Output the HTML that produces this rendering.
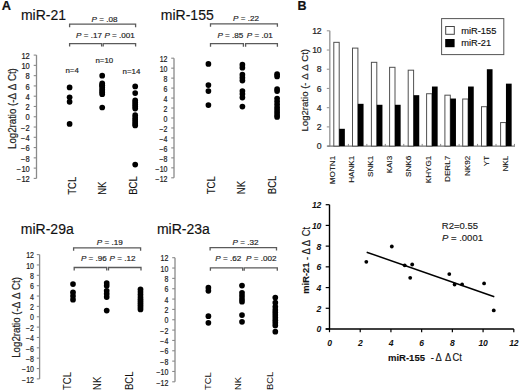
<!DOCTYPE html>
<html><head><meta charset="utf-8"><style>
html,body{margin:0;padding:0;background:#fff;}
svg{display:block;font-family:"Liberation Sans", sans-serif;}
</style></head><body>
<svg width="520" height="392" viewBox="0 0 520 392">
<rect width="520" height="392" fill="#fff"/>
<line x1="36.50" y1="55.10" x2="36.50" y2="178.40" stroke="#8a8a8a" stroke-width="1.3"/>
<line x1="33.70" y1="178.40" x2="36.50" y2="178.40" stroke="#8a8a8a" stroke-width="1.1"/>
<text x="0" y="0" font-size="8.8" text-anchor="end" fill="#1a1a1a" stroke="#1a1a1a" stroke-width="0.2" transform="translate(29.80 182.10) scale(0.86 1)">− 12</text>
<line x1="33.70" y1="168.12" x2="36.50" y2="168.12" stroke="#8a8a8a" stroke-width="1.1"/>
<text x="0" y="0" font-size="8.8" text-anchor="end" fill="#1a1a1a" stroke="#1a1a1a" stroke-width="0.2" transform="translate(29.80 171.82) scale(0.86 1)">− 10</text>
<line x1="33.70" y1="157.85" x2="36.50" y2="157.85" stroke="#8a8a8a" stroke-width="1.1"/>
<text x="0" y="0" font-size="8.8" text-anchor="end" fill="#1a1a1a" stroke="#1a1a1a" stroke-width="0.2" transform="translate(29.80 161.55) scale(0.86 1)">− 8</text>
<line x1="33.70" y1="147.57" x2="36.50" y2="147.57" stroke="#8a8a8a" stroke-width="1.1"/>
<text x="0" y="0" font-size="8.8" text-anchor="end" fill="#1a1a1a" stroke="#1a1a1a" stroke-width="0.2" transform="translate(29.80 151.27) scale(0.86 1)">− 6</text>
<line x1="33.70" y1="137.30" x2="36.50" y2="137.30" stroke="#8a8a8a" stroke-width="1.1"/>
<text x="0" y="0" font-size="8.8" text-anchor="end" fill="#1a1a1a" stroke="#1a1a1a" stroke-width="0.2" transform="translate(29.80 141.00) scale(0.86 1)">− 4</text>
<line x1="33.70" y1="127.03" x2="36.50" y2="127.03" stroke="#8a8a8a" stroke-width="1.1"/>
<text x="0" y="0" font-size="8.8" text-anchor="end" fill="#1a1a1a" stroke="#1a1a1a" stroke-width="0.2" transform="translate(29.80 130.72) scale(0.86 1)">− 2</text>
<line x1="33.70" y1="116.75" x2="36.50" y2="116.75" stroke="#8a8a8a" stroke-width="1.1"/>
<text x="0" y="0" font-size="8.8" text-anchor="end" fill="#1a1a1a" stroke="#1a1a1a" stroke-width="0.2" transform="translate(29.80 120.45) scale(0.86 1)">0</text>
<line x1="33.70" y1="106.47" x2="36.50" y2="106.47" stroke="#8a8a8a" stroke-width="1.1"/>
<text x="0" y="0" font-size="8.8" text-anchor="end" fill="#1a1a1a" stroke="#1a1a1a" stroke-width="0.2" transform="translate(29.80 110.17) scale(0.86 1)">2</text>
<line x1="33.70" y1="96.20" x2="36.50" y2="96.20" stroke="#8a8a8a" stroke-width="1.1"/>
<text x="0" y="0" font-size="8.8" text-anchor="end" fill="#1a1a1a" stroke="#1a1a1a" stroke-width="0.2" transform="translate(29.80 99.90) scale(0.86 1)">4</text>
<line x1="33.70" y1="85.92" x2="36.50" y2="85.92" stroke="#8a8a8a" stroke-width="1.1"/>
<text x="0" y="0" font-size="8.8" text-anchor="end" fill="#1a1a1a" stroke="#1a1a1a" stroke-width="0.2" transform="translate(29.80 89.62) scale(0.86 1)">6</text>
<line x1="33.70" y1="75.65" x2="36.50" y2="75.65" stroke="#8a8a8a" stroke-width="1.1"/>
<text x="0" y="0" font-size="8.8" text-anchor="end" fill="#1a1a1a" stroke="#1a1a1a" stroke-width="0.2" transform="translate(29.80 79.35) scale(0.86 1)">8</text>
<line x1="33.70" y1="65.38" x2="36.50" y2="65.38" stroke="#8a8a8a" stroke-width="1.1"/>
<text x="0" y="0" font-size="8.8" text-anchor="end" fill="#1a1a1a" stroke="#1a1a1a" stroke-width="0.2" transform="translate(29.80 69.08) scale(0.86 1)">10</text>
<line x1="33.70" y1="55.10" x2="36.50" y2="55.10" stroke="#8a8a8a" stroke-width="1.1"/>
<text x="0" y="0" font-size="8.8" text-anchor="end" fill="#1a1a1a" stroke="#1a1a1a" stroke-width="0.2" transform="translate(29.80 58.80) scale(0.86 1)">12</text>
<text x="20.90" y="19.50" font-size="14" text-anchor="start" fill="#111" stroke="#111" stroke-width="0.15" >miR-21</text>
<text x="15.80" y="108.60" font-size="10.0" text-anchor="middle" fill="#222" stroke="#222" stroke-width="0.2" textLength="80.8" lengthAdjust="spacingAndGlyphs" transform="rotate(-90 15.80 108.60)">Log2ratio (-Δ Δ Ct)</text>
<path d="M69.60 27.20 L69.60 24.20 L135.60 24.20 L135.60 27.20" stroke="#5a5a5a" stroke-width="1.3" fill="none"/>
<path d="M69.60 46.60 L69.60 43.60 L101.60 43.60 L101.60 46.60" stroke="#5a5a5a" stroke-width="1.3" fill="none"/>
<path d="M103.20 46.60 L103.20 43.60 L135.60 43.60 L135.60 46.60" stroke="#5a5a5a" stroke-width="1.3" fill="none"/>
<text x="91.60" y="21.60" font-size="8.1" text-anchor="start" fill="#222" stroke="#222" stroke-width="0.18" ><tspan font-style="italic">P</tspan> = .08</text>
<text x="76.10" y="37.80" font-size="8.1" text-anchor="start" fill="#222" stroke="#222" stroke-width="0.18" ><tspan font-style="italic">P</tspan> = .17</text>
<text x="104.40" y="37.80" font-size="8.1" text-anchor="start" fill="#222" stroke="#222" stroke-width="0.18" ><tspan font-style="italic">P</tspan> = .001</text>
<text x="65.40" y="73.40" font-size="7.9" text-anchor="start" fill="#222" stroke="#222" stroke-width="0.18" >n=4</text>
<text x="95.40" y="63.20" font-size="7.9" text-anchor="start" fill="#222" stroke="#222" stroke-width="0.18" >n=10</text>
<text x="122.50" y="73.80" font-size="7.9" text-anchor="start" fill="#222" stroke="#222" stroke-width="0.18" >n=14</text>
<circle cx="69.60" cy="87.47" r="2.85" fill="#000"/>
<circle cx="69.60" cy="97.23" r="2.85" fill="#000"/>
<circle cx="69.60" cy="101.85" r="2.85" fill="#000"/>
<circle cx="69.60" cy="123.94" r="2.85" fill="#000"/>
<circle cx="102.20" cy="75.65" r="2.85" fill="#000"/>
<circle cx="102.20" cy="83.36" r="2.85" fill="#000"/>
<circle cx="102.20" cy="85.41" r="2.85" fill="#000"/>
<circle cx="102.20" cy="85.41" r="2.85" fill="#000"/>
<circle cx="102.20" cy="87.47" r="2.85" fill="#000"/>
<circle cx="102.20" cy="89.52" r="2.85" fill="#000"/>
<circle cx="102.20" cy="91.06" r="2.85" fill="#000"/>
<circle cx="102.20" cy="92.60" r="2.85" fill="#000"/>
<circle cx="102.20" cy="94.14" r="2.85" fill="#000"/>
<circle cx="102.20" cy="107.50" r="2.85" fill="#000"/>
<circle cx="135.20" cy="86.44" r="2.85" fill="#000"/>
<circle cx="135.20" cy="93.12" r="2.85" fill="#000"/>
<circle cx="135.20" cy="100.31" r="2.85" fill="#000"/>
<circle cx="135.20" cy="102.36" r="2.85" fill="#000"/>
<circle cx="135.20" cy="104.42" r="2.85" fill="#000"/>
<circle cx="135.20" cy="106.47" r="2.85" fill="#000"/>
<circle cx="135.20" cy="108.53" r="2.85" fill="#000"/>
<circle cx="135.20" cy="115.21" r="2.85" fill="#000"/>
<circle cx="135.20" cy="117.78" r="2.85" fill="#000"/>
<circle cx="135.20" cy="119.83" r="2.85" fill="#000"/>
<circle cx="135.20" cy="121.89" r="2.85" fill="#000"/>
<circle cx="135.20" cy="123.94" r="2.85" fill="#000"/>
<circle cx="135.20" cy="125.48" r="2.85" fill="#000"/>
<circle cx="135.20" cy="164.53" r="2.85" fill="#000"/>
<text x="0" y="0" font-size="10.6" fill="#111" stroke="#111" stroke-width="0.12" transform="translate(76.30 194.80) rotate(-90) scale(0.9 1)">TCL</text>
<text x="0" y="0" font-size="10.6" fill="#111" stroke="#111" stroke-width="0.12" transform="translate(106.30 194.80) rotate(-90) scale(0.9 1)">NK</text>
<text x="0" y="0" font-size="10.6" fill="#111" stroke="#111" stroke-width="0.12" transform="translate(137.10 194.80) rotate(-90) scale(0.9 1)">BCL</text>
<line x1="174.00" y1="58.20" x2="174.00" y2="177.80" stroke="#8a8a8a" stroke-width="1.3"/>
<line x1="171.20" y1="177.80" x2="174.00" y2="177.80" stroke="#8a8a8a" stroke-width="1.1"/>
<text x="0" y="0" font-size="8.8" text-anchor="end" fill="#1a1a1a" stroke="#1a1a1a" stroke-width="0.2" transform="translate(167.50 181.50) scale(0.8 1)">− 12</text>
<line x1="171.20" y1="167.83" x2="174.00" y2="167.83" stroke="#8a8a8a" stroke-width="1.1"/>
<text x="0" y="0" font-size="8.8" text-anchor="end" fill="#1a1a1a" stroke="#1a1a1a" stroke-width="0.2" transform="translate(167.50 171.53) scale(0.8 1)">− 10</text>
<line x1="171.20" y1="157.87" x2="174.00" y2="157.87" stroke="#8a8a8a" stroke-width="1.1"/>
<text x="0" y="0" font-size="8.8" text-anchor="end" fill="#1a1a1a" stroke="#1a1a1a" stroke-width="0.2" transform="translate(167.50 161.57) scale(0.8 1)">− 8</text>
<line x1="171.20" y1="147.90" x2="174.00" y2="147.90" stroke="#8a8a8a" stroke-width="1.1"/>
<text x="0" y="0" font-size="8.8" text-anchor="end" fill="#1a1a1a" stroke="#1a1a1a" stroke-width="0.2" transform="translate(167.50 151.60) scale(0.8 1)">− 6</text>
<line x1="171.20" y1="137.93" x2="174.00" y2="137.93" stroke="#8a8a8a" stroke-width="1.1"/>
<text x="0" y="0" font-size="8.8" text-anchor="end" fill="#1a1a1a" stroke="#1a1a1a" stroke-width="0.2" transform="translate(167.50 141.63) scale(0.8 1)">− 4</text>
<line x1="171.20" y1="127.97" x2="174.00" y2="127.97" stroke="#8a8a8a" stroke-width="1.1"/>
<text x="0" y="0" font-size="8.8" text-anchor="end" fill="#1a1a1a" stroke="#1a1a1a" stroke-width="0.2" transform="translate(167.50 131.67) scale(0.8 1)">− 2</text>
<line x1="171.20" y1="118.00" x2="174.00" y2="118.00" stroke="#8a8a8a" stroke-width="1.1"/>
<text x="0" y="0" font-size="8.8" text-anchor="end" fill="#1a1a1a" stroke="#1a1a1a" stroke-width="0.2" transform="translate(167.50 121.70) scale(0.8 1)">0</text>
<line x1="171.20" y1="108.03" x2="174.00" y2="108.03" stroke="#8a8a8a" stroke-width="1.1"/>
<text x="0" y="0" font-size="8.8" text-anchor="end" fill="#1a1a1a" stroke="#1a1a1a" stroke-width="0.2" transform="translate(167.50 111.73) scale(0.8 1)">2</text>
<line x1="171.20" y1="98.07" x2="174.00" y2="98.07" stroke="#8a8a8a" stroke-width="1.1"/>
<text x="0" y="0" font-size="8.8" text-anchor="end" fill="#1a1a1a" stroke="#1a1a1a" stroke-width="0.2" transform="translate(167.50 101.77) scale(0.8 1)">4</text>
<line x1="171.20" y1="88.10" x2="174.00" y2="88.10" stroke="#8a8a8a" stroke-width="1.1"/>
<text x="0" y="0" font-size="8.8" text-anchor="end" fill="#1a1a1a" stroke="#1a1a1a" stroke-width="0.2" transform="translate(167.50 91.80) scale(0.8 1)">6</text>
<line x1="171.20" y1="78.13" x2="174.00" y2="78.13" stroke="#8a8a8a" stroke-width="1.1"/>
<text x="0" y="0" font-size="8.8" text-anchor="end" fill="#1a1a1a" stroke="#1a1a1a" stroke-width="0.2" transform="translate(167.50 81.83) scale(0.8 1)">8</text>
<line x1="171.20" y1="68.17" x2="174.00" y2="68.17" stroke="#8a8a8a" stroke-width="1.1"/>
<text x="0" y="0" font-size="8.8" text-anchor="end" fill="#1a1a1a" stroke="#1a1a1a" stroke-width="0.2" transform="translate(167.50 71.87) scale(0.8 1)">10</text>
<line x1="171.20" y1="58.20" x2="174.00" y2="58.20" stroke="#8a8a8a" stroke-width="1.1"/>
<text x="0" y="0" font-size="8.8" text-anchor="end" fill="#1a1a1a" stroke="#1a1a1a" stroke-width="0.2" transform="translate(167.50 61.90) scale(0.8 1)">12</text>
<text x="160.80" y="19.80" font-size="14" text-anchor="start" fill="#111" stroke="#111" stroke-width="0.15" >miR-155</text>
<path d="M210.50 26.80 L210.50 23.80 L277.40 23.80 L277.40 26.80" stroke="#5a5a5a" stroke-width="1.3" fill="none"/>
<path d="M210.50 46.70 L210.50 43.70 L243.40 43.70 L243.40 46.70" stroke="#5a5a5a" stroke-width="1.3" fill="none"/>
<path d="M245.60 46.70 L245.60 43.70 L277.40 43.70 L277.40 46.70" stroke="#5a5a5a" stroke-width="1.3" fill="none"/>
<text x="233.00" y="21.30" font-size="8.1" text-anchor="start" fill="#222" stroke="#222" stroke-width="0.18" ><tspan font-style="italic">P</tspan> = .22</text>
<text x="217.40" y="37.80" font-size="8.1" text-anchor="start" fill="#222" stroke="#222" stroke-width="0.18" ><tspan font-style="italic">P</tspan> = .85</text>
<text x="246.80" y="37.80" font-size="8.1" text-anchor="start" fill="#222" stroke="#222" stroke-width="0.18" ><tspan font-style="italic">P</tspan> = .01</text>
<circle cx="208.40" cy="63.93" r="2.85" fill="#000"/>
<circle cx="208.40" cy="85.11" r="2.85" fill="#000"/>
<circle cx="208.40" cy="91.09" r="2.85" fill="#000"/>
<circle cx="208.40" cy="105.04" r="2.85" fill="#000"/>
<circle cx="242.40" cy="64.68" r="2.85" fill="#000"/>
<circle cx="242.40" cy="67.67" r="2.85" fill="#000"/>
<circle cx="242.40" cy="74.65" r="2.85" fill="#000"/>
<circle cx="242.40" cy="77.63" r="2.85" fill="#000"/>
<circle cx="242.40" cy="80.62" r="2.85" fill="#000"/>
<circle cx="242.40" cy="91.09" r="2.85" fill="#000"/>
<circle cx="242.40" cy="94.08" r="2.85" fill="#000"/>
<circle cx="242.40" cy="97.57" r="2.85" fill="#000"/>
<circle cx="242.40" cy="106.54" r="2.85" fill="#000"/>
<circle cx="277.10" cy="74.15" r="2.85" fill="#000"/>
<circle cx="277.10" cy="76.39" r="2.85" fill="#000"/>
<circle cx="277.10" cy="89.10" r="2.85" fill="#000"/>
<circle cx="277.10" cy="91.09" r="2.85" fill="#000"/>
<circle cx="277.10" cy="98.56" r="2.85" fill="#000"/>
<circle cx="277.10" cy="101.56" r="2.85" fill="#000"/>
<circle cx="277.10" cy="104.55" r="2.85" fill="#000"/>
<circle cx="277.10" cy="107.53" r="2.85" fill="#000"/>
<circle cx="277.10" cy="110.03" r="2.85" fill="#000"/>
<circle cx="277.10" cy="112.52" r="2.85" fill="#000"/>
<circle cx="277.10" cy="115.01" r="2.85" fill="#000"/>
<circle cx="277.10" cy="117.00" r="2.85" fill="#000"/>
<text x="0" y="0" font-size="10.6" fill="#111" stroke="#111" stroke-width="0.12" transform="translate(215.10 194.20) rotate(-90) scale(0.9 1)">TCL</text>
<text x="0" y="0" font-size="10.6" fill="#111" stroke="#111" stroke-width="0.12" transform="translate(244.70 194.20) rotate(-90) scale(0.9 1)">NK</text>
<text x="0" y="0" font-size="10.6" fill="#111" stroke="#111" stroke-width="0.12" transform="translate(275.90 194.20) rotate(-90) scale(0.9 1)">BCL</text>
<line x1="39.60" y1="254.60" x2="39.60" y2="378.90" stroke="#8a8a8a" stroke-width="1.3"/>
<line x1="36.80" y1="378.90" x2="39.60" y2="378.90" stroke="#8a8a8a" stroke-width="1.1"/>
<text x="0" y="0" font-size="8.8" text-anchor="end" fill="#1a1a1a" stroke="#1a1a1a" stroke-width="0.2" transform="translate(34.00 382.60) scale(0.8 1)">− 12</text>
<line x1="36.80" y1="368.54" x2="39.60" y2="368.54" stroke="#8a8a8a" stroke-width="1.1"/>
<text x="0" y="0" font-size="8.8" text-anchor="end" fill="#1a1a1a" stroke="#1a1a1a" stroke-width="0.2" transform="translate(34.00 372.24) scale(0.8 1)">− 10</text>
<line x1="36.80" y1="358.18" x2="39.60" y2="358.18" stroke="#8a8a8a" stroke-width="1.1"/>
<text x="0" y="0" font-size="8.8" text-anchor="end" fill="#1a1a1a" stroke="#1a1a1a" stroke-width="0.2" transform="translate(34.00 361.88) scale(0.8 1)">− 8</text>
<line x1="36.80" y1="347.82" x2="39.60" y2="347.82" stroke="#8a8a8a" stroke-width="1.1"/>
<text x="0" y="0" font-size="8.8" text-anchor="end" fill="#1a1a1a" stroke="#1a1a1a" stroke-width="0.2" transform="translate(34.00 351.52) scale(0.8 1)">− 6</text>
<line x1="36.80" y1="337.47" x2="39.60" y2="337.47" stroke="#8a8a8a" stroke-width="1.1"/>
<text x="0" y="0" font-size="8.8" text-anchor="end" fill="#1a1a1a" stroke="#1a1a1a" stroke-width="0.2" transform="translate(34.00 341.17) scale(0.8 1)">− 4</text>
<line x1="36.80" y1="327.11" x2="39.60" y2="327.11" stroke="#8a8a8a" stroke-width="1.1"/>
<text x="0" y="0" font-size="8.8" text-anchor="end" fill="#1a1a1a" stroke="#1a1a1a" stroke-width="0.2" transform="translate(34.00 330.81) scale(0.8 1)">− 2</text>
<line x1="36.80" y1="316.75" x2="39.60" y2="316.75" stroke="#8a8a8a" stroke-width="1.1"/>
<text x="0" y="0" font-size="8.8" text-anchor="end" fill="#1a1a1a" stroke="#1a1a1a" stroke-width="0.2" transform="translate(34.00 320.45) scale(0.8 1)">0</text>
<line x1="36.80" y1="306.39" x2="39.60" y2="306.39" stroke="#8a8a8a" stroke-width="1.1"/>
<text x="0" y="0" font-size="8.8" text-anchor="end" fill="#1a1a1a" stroke="#1a1a1a" stroke-width="0.2" transform="translate(34.00 310.09) scale(0.8 1)">2</text>
<line x1="36.80" y1="296.03" x2="39.60" y2="296.03" stroke="#8a8a8a" stroke-width="1.1"/>
<text x="0" y="0" font-size="8.8" text-anchor="end" fill="#1a1a1a" stroke="#1a1a1a" stroke-width="0.2" transform="translate(34.00 299.73) scale(0.8 1)">4</text>
<line x1="36.80" y1="285.68" x2="39.60" y2="285.68" stroke="#8a8a8a" stroke-width="1.1"/>
<text x="0" y="0" font-size="8.8" text-anchor="end" fill="#1a1a1a" stroke="#1a1a1a" stroke-width="0.2" transform="translate(34.00 289.38) scale(0.8 1)">6</text>
<line x1="36.80" y1="275.32" x2="39.60" y2="275.32" stroke="#8a8a8a" stroke-width="1.1"/>
<text x="0" y="0" font-size="8.8" text-anchor="end" fill="#1a1a1a" stroke="#1a1a1a" stroke-width="0.2" transform="translate(34.00 279.02) scale(0.8 1)">8</text>
<line x1="36.80" y1="264.96" x2="39.60" y2="264.96" stroke="#8a8a8a" stroke-width="1.1"/>
<text x="0" y="0" font-size="8.8" text-anchor="end" fill="#1a1a1a" stroke="#1a1a1a" stroke-width="0.2" transform="translate(34.00 268.66) scale(0.8 1)">10</text>
<line x1="36.80" y1="254.60" x2="39.60" y2="254.60" stroke="#8a8a8a" stroke-width="1.1"/>
<text x="0" y="0" font-size="8.8" text-anchor="end" fill="#1a1a1a" stroke="#1a1a1a" stroke-width="0.2" transform="translate(34.00 258.30) scale(0.8 1)">12</text>
<text x="20.80" y="233.60" font-size="14" text-anchor="start" fill="#111" stroke="#111" stroke-width="0.15" >miR-29a</text>
<text x="20.00" y="317.40" font-size="10.0" text-anchor="middle" fill="#222" stroke="#222" stroke-width="0.2" textLength="80.8" lengthAdjust="spacingAndGlyphs" transform="rotate(-90 20.00 317.40)">Log2ratio (-Δ Δ Ct)</text>
<path d="M73.60 250.80 L73.60 247.80 L140.60 247.80 L140.60 250.80" stroke="#5a5a5a" stroke-width="1.3" fill="none"/>
<path d="M74.20 270.50 L74.20 267.50 L106.70 267.50 L106.70 270.50" stroke="#5a5a5a" stroke-width="1.3" fill="none"/>
<path d="M108.50 270.50 L108.50 267.50 L141.00 267.50 L141.00 270.50" stroke="#5a5a5a" stroke-width="1.3" fill="none"/>
<text x="96.80" y="244.50" font-size="8.1" text-anchor="start" fill="#222" stroke="#222" stroke-width="0.18" ><tspan font-style="italic">P</tspan> = .19</text>
<text x="80.90" y="260.60" font-size="8.1" text-anchor="start" fill="#222" stroke="#222" stroke-width="0.18" ><tspan font-style="italic">P</tspan> = .96</text>
<text x="109.50" y="260.60" font-size="8.1" text-anchor="start" fill="#222" stroke="#222" stroke-width="0.18" ><tspan font-style="italic">P</tspan> = .12</text>
<circle cx="73.00" cy="284.12" r="2.85" fill="#000"/>
<circle cx="73.00" cy="292.41" r="2.85" fill="#000"/>
<circle cx="73.00" cy="296.03" r="2.85" fill="#000"/>
<circle cx="73.00" cy="299.66" r="2.85" fill="#000"/>
<circle cx="106.70" cy="283.09" r="2.85" fill="#000"/>
<circle cx="106.70" cy="285.68" r="2.85" fill="#000"/>
<circle cx="106.70" cy="290.85" r="2.85" fill="#000"/>
<circle cx="106.70" cy="293.96" r="2.85" fill="#000"/>
<circle cx="106.70" cy="297.07" r="2.85" fill="#000"/>
<circle cx="106.70" cy="310.54" r="2.85" fill="#000"/>
<circle cx="140.50" cy="289.30" r="2.85" fill="#000"/>
<circle cx="140.50" cy="291.89" r="2.85" fill="#000"/>
<circle cx="140.50" cy="294.48" r="2.85" fill="#000"/>
<circle cx="140.50" cy="297.07" r="2.85" fill="#000"/>
<circle cx="140.50" cy="299.14" r="2.85" fill="#000"/>
<circle cx="140.50" cy="301.21" r="2.85" fill="#000"/>
<circle cx="140.50" cy="303.28" r="2.85" fill="#000"/>
<circle cx="140.50" cy="305.36" r="2.85" fill="#000"/>
<circle cx="140.50" cy="307.43" r="2.85" fill="#000"/>
<circle cx="140.50" cy="309.50" r="2.85" fill="#000"/>
<text x="0" y="0" font-size="10.6" fill="#111" stroke="#111" stroke-width="0.04" transform="translate(71.10 390.00) rotate(-90) scale(0.9 1)">TCL</text>
<text x="0" y="0" font-size="10.6" fill="#111" stroke="#111" stroke-width="0.04" transform="translate(101.30 390.00) rotate(-90) scale(0.9 1)">NK</text>
<text x="0" y="0" font-size="10.6" fill="#111" stroke="#111" stroke-width="0.04" transform="translate(132.70 390.00) rotate(-90) scale(0.9 1)">BCL</text>
<line x1="175.00" y1="257.70" x2="175.00" y2="381.80" stroke="#8a8a8a" stroke-width="1.3"/>
<line x1="172.20" y1="381.80" x2="175.00" y2="381.80" stroke="#8a8a8a" stroke-width="1.1"/>
<text x="0" y="0" font-size="8.8" text-anchor="end" fill="#1a1a1a" stroke="#1a1a1a" stroke-width="0.2" transform="translate(168.40 385.50) scale(0.8 1)">− 12</text>
<line x1="172.20" y1="371.46" x2="175.00" y2="371.46" stroke="#8a8a8a" stroke-width="1.1"/>
<text x="0" y="0" font-size="8.8" text-anchor="end" fill="#1a1a1a" stroke="#1a1a1a" stroke-width="0.2" transform="translate(168.40 375.16) scale(0.8 1)">− 10</text>
<line x1="172.20" y1="361.12" x2="175.00" y2="361.12" stroke="#8a8a8a" stroke-width="1.1"/>
<text x="0" y="0" font-size="8.8" text-anchor="end" fill="#1a1a1a" stroke="#1a1a1a" stroke-width="0.2" transform="translate(168.40 364.82) scale(0.8 1)">− 8</text>
<line x1="172.20" y1="350.77" x2="175.00" y2="350.77" stroke="#8a8a8a" stroke-width="1.1"/>
<text x="0" y="0" font-size="8.8" text-anchor="end" fill="#1a1a1a" stroke="#1a1a1a" stroke-width="0.2" transform="translate(168.40 354.47) scale(0.8 1)">− 6</text>
<line x1="172.20" y1="340.43" x2="175.00" y2="340.43" stroke="#8a8a8a" stroke-width="1.1"/>
<text x="0" y="0" font-size="8.8" text-anchor="end" fill="#1a1a1a" stroke="#1a1a1a" stroke-width="0.2" transform="translate(168.40 344.13) scale(0.8 1)">− 4</text>
<line x1="172.20" y1="330.09" x2="175.00" y2="330.09" stroke="#8a8a8a" stroke-width="1.1"/>
<text x="0" y="0" font-size="8.8" text-anchor="end" fill="#1a1a1a" stroke="#1a1a1a" stroke-width="0.2" transform="translate(168.40 333.79) scale(0.8 1)">− 2</text>
<line x1="172.20" y1="319.75" x2="175.00" y2="319.75" stroke="#8a8a8a" stroke-width="1.1"/>
<text x="0" y="0" font-size="8.8" text-anchor="end" fill="#1a1a1a" stroke="#1a1a1a" stroke-width="0.2" transform="translate(168.40 323.45) scale(0.8 1)">0</text>
<line x1="172.20" y1="309.41" x2="175.00" y2="309.41" stroke="#8a8a8a" stroke-width="1.1"/>
<text x="0" y="0" font-size="8.8" text-anchor="end" fill="#1a1a1a" stroke="#1a1a1a" stroke-width="0.2" transform="translate(168.40 313.11) scale(0.8 1)">2</text>
<line x1="172.20" y1="299.07" x2="175.00" y2="299.07" stroke="#8a8a8a" stroke-width="1.1"/>
<text x="0" y="0" font-size="8.8" text-anchor="end" fill="#1a1a1a" stroke="#1a1a1a" stroke-width="0.2" transform="translate(168.40 302.77) scale(0.8 1)">4</text>
<line x1="172.20" y1="288.73" x2="175.00" y2="288.73" stroke="#8a8a8a" stroke-width="1.1"/>
<text x="0" y="0" font-size="8.8" text-anchor="end" fill="#1a1a1a" stroke="#1a1a1a" stroke-width="0.2" transform="translate(168.40 292.43) scale(0.8 1)">6</text>
<line x1="172.20" y1="278.38" x2="175.00" y2="278.38" stroke="#8a8a8a" stroke-width="1.1"/>
<text x="0" y="0" font-size="8.8" text-anchor="end" fill="#1a1a1a" stroke="#1a1a1a" stroke-width="0.2" transform="translate(168.40 282.08) scale(0.8 1)">8</text>
<line x1="172.20" y1="268.04" x2="175.00" y2="268.04" stroke="#8a8a8a" stroke-width="1.1"/>
<text x="0" y="0" font-size="8.8" text-anchor="end" fill="#1a1a1a" stroke="#1a1a1a" stroke-width="0.2" transform="translate(168.40 271.74) scale(0.8 1)">10</text>
<line x1="172.20" y1="257.70" x2="175.00" y2="257.70" stroke="#8a8a8a" stroke-width="1.1"/>
<text x="0" y="0" font-size="8.8" text-anchor="end" fill="#1a1a1a" stroke="#1a1a1a" stroke-width="0.2" transform="translate(168.40 261.40) scale(0.8 1)">12</text>
<text x="156.90" y="233.70" font-size="14" text-anchor="start" fill="#111" stroke="#111" stroke-width="0.15" >miR-23a</text>
<path d="M210.10 250.60 L210.10 247.60 L276.50 247.60 L276.50 250.60" stroke="#5a5a5a" stroke-width="1.3" fill="none"/>
<path d="M210.40 270.80 L210.40 267.80 L242.70 267.80 L242.70 270.80" stroke="#5a5a5a" stroke-width="1.3" fill="none"/>
<path d="M244.20 270.80 L244.20 267.80 L277.30 267.80 L277.30 270.80" stroke="#5a5a5a" stroke-width="1.3" fill="none"/>
<text x="232.60" y="244.50" font-size="8.1" text-anchor="start" fill="#222" stroke="#222" stroke-width="0.18" ><tspan font-style="italic">P</tspan> = .32</text>
<text x="215.30" y="260.80" font-size="8.1" text-anchor="start" fill="#222" stroke="#222" stroke-width="0.18" ><tspan font-style="italic">P</tspan> = .62</text>
<text x="246.00" y="260.80" font-size="8.1" text-anchor="start" fill="#222" stroke="#222" stroke-width="0.18" ><tspan font-style="italic">P</tspan> = .002</text>
<circle cx="208.40" cy="287.69" r="2.85" fill="#000"/>
<circle cx="208.40" cy="290.79" r="2.85" fill="#000"/>
<circle cx="208.40" cy="316.13" r="2.85" fill="#000"/>
<circle cx="208.40" cy="322.85" r="2.85" fill="#000"/>
<circle cx="242.00" cy="285.62" r="2.85" fill="#000"/>
<circle cx="242.00" cy="292.86" r="2.85" fill="#000"/>
<circle cx="242.00" cy="295.96" r="2.85" fill="#000"/>
<circle cx="242.00" cy="299.07" r="2.85" fill="#000"/>
<circle cx="242.00" cy="301.65" r="2.85" fill="#000"/>
<circle cx="242.00" cy="315.10" r="2.85" fill="#000"/>
<circle cx="242.00" cy="321.82" r="2.85" fill="#000"/>
<circle cx="275.30" cy="297.52" r="2.85" fill="#000"/>
<circle cx="275.30" cy="302.69" r="2.85" fill="#000"/>
<circle cx="275.30" cy="306.82" r="2.85" fill="#000"/>
<circle cx="275.30" cy="309.93" r="2.85" fill="#000"/>
<circle cx="275.30" cy="312.51" r="2.85" fill="#000"/>
<circle cx="275.30" cy="315.10" r="2.85" fill="#000"/>
<circle cx="275.30" cy="317.68" r="2.85" fill="#000"/>
<circle cx="275.30" cy="320.27" r="2.85" fill="#000"/>
<circle cx="275.30" cy="322.85" r="2.85" fill="#000"/>
<circle cx="275.30" cy="325.44" r="2.85" fill="#000"/>
<circle cx="275.30" cy="331.64" r="2.85" fill="#000"/>
<text x="0" y="0" font-size="9.9" fill="#111" stroke="#111" stroke-width="0.02" transform="translate(210.80 390.10) rotate(-90) scale(0.95 1)">TCL</text>
<text x="0" y="0" font-size="9.9" fill="#111" stroke="#111" stroke-width="0.02" transform="translate(240.80 390.10) rotate(-90) scale(0.95 1)">NK</text>
<text x="0" y="0" font-size="9.9" fill="#111" stroke="#111" stroke-width="0.02" transform="translate(272.80 390.10) rotate(-90) scale(0.95 1)">BCL</text>
<text x="1.70" y="9.90" font-size="12.8" text-anchor="start" font-weight="bold" fill="#111" stroke="#111" stroke-width="0.2" >A</text>
<text x="297.60" y="9.90" font-size="12.5" text-anchor="start" font-weight="bold" fill="#111" stroke="#111" stroke-width="0.2" >B</text>
<line x1="329.80" y1="30.80" x2="329.80" y2="146.10" stroke="#a0a0a0" stroke-width="1.5"/>
<line x1="326.80" y1="146.10" x2="329.80" y2="146.10" stroke="#999" stroke-width="1.1"/>
<text x="321.40" y="149.20" font-size="8.7" text-anchor="end" fill="#222" stroke="#222" stroke-width="0.2" letter-spacing="-0.3">0</text>
<line x1="326.80" y1="126.88" x2="329.80" y2="126.88" stroke="#999" stroke-width="1.1"/>
<text x="321.40" y="129.98" font-size="8.7" text-anchor="end" fill="#222" stroke="#222" stroke-width="0.2" letter-spacing="-0.3">2</text>
<line x1="326.80" y1="107.67" x2="329.80" y2="107.67" stroke="#999" stroke-width="1.1"/>
<text x="321.40" y="110.77" font-size="8.7" text-anchor="end" fill="#222" stroke="#222" stroke-width="0.2" letter-spacing="-0.3">4</text>
<line x1="326.80" y1="88.45" x2="329.80" y2="88.45" stroke="#999" stroke-width="1.1"/>
<text x="321.40" y="91.55" font-size="8.7" text-anchor="end" fill="#222" stroke="#222" stroke-width="0.2" letter-spacing="-0.3">6</text>
<line x1="326.80" y1="69.23" x2="329.80" y2="69.23" stroke="#999" stroke-width="1.1"/>
<text x="321.40" y="72.33" font-size="8.7" text-anchor="end" fill="#222" stroke="#222" stroke-width="0.2" letter-spacing="-0.3">8</text>
<line x1="326.80" y1="50.02" x2="329.80" y2="50.02" stroke="#999" stroke-width="1.1"/>
<text x="321.40" y="53.12" font-size="8.7" text-anchor="end" fill="#222" stroke="#222" stroke-width="0.2" letter-spacing="-0.3">10</text>
<line x1="326.80" y1="30.80" x2="329.80" y2="30.80" stroke="#999" stroke-width="1.1"/>
<text x="321.40" y="33.90" font-size="8.7" text-anchor="end" fill="#222" stroke="#222" stroke-width="0.2" letter-spacing="-0.3">12</text>
<line x1="327.30" y1="146.10" x2="515.00" y2="146.10" stroke="#777" stroke-width="1.2"/>
<line x1="348.40" y1="143.90" x2="348.40" y2="146.10" stroke="#888" stroke-width="1.0"/>
<line x1="366.85" y1="143.90" x2="366.85" y2="146.10" stroke="#888" stroke-width="1.0"/>
<line x1="385.30" y1="143.90" x2="385.30" y2="146.10" stroke="#888" stroke-width="1.0"/>
<line x1="403.75" y1="143.90" x2="403.75" y2="146.10" stroke="#888" stroke-width="1.0"/>
<line x1="422.20" y1="143.90" x2="422.20" y2="146.10" stroke="#888" stroke-width="1.0"/>
<line x1="440.65" y1="143.90" x2="440.65" y2="146.10" stroke="#888" stroke-width="1.0"/>
<line x1="459.10" y1="143.90" x2="459.10" y2="146.10" stroke="#888" stroke-width="1.0"/>
<line x1="477.55" y1="143.90" x2="477.55" y2="146.10" stroke="#888" stroke-width="1.0"/>
<line x1="496.00" y1="143.90" x2="496.00" y2="146.10" stroke="#888" stroke-width="1.0"/>
<line x1="514.45" y1="143.90" x2="514.45" y2="146.10" stroke="#888" stroke-width="1.0"/>
<text x="308.3" y="90.2" font-size="9.6" text-anchor="middle" fill="#222" stroke="#222" stroke-width="0.2" textLength="82.5" lengthAdjust="spacingAndGlyphs" transform="rotate(-90 308.3 90.2)">Log2ratio (- Δ Δ Ct)</text>
<rect x="333.80" y="42.33" width="5.40" height="103.77" fill="#fff" stroke="#505050" stroke-width="1"/>
<rect x="339.15" y="128.81" width="5.70" height="17.29" fill="#000" stroke="none" stroke-width="1"/>
<text x="335.40" y="155.80" font-size="8.1" text-anchor="end" fill="#111" stroke="#111" stroke-width="0.1" transform="rotate(-90 335.40 155.80)" >MOTN1</text>
<rect x="352.50" y="48.10" width="5.40" height="98.00" fill="#fff" stroke="#505050" stroke-width="1"/>
<rect x="357.85" y="103.82" width="5.70" height="42.28" fill="#000" stroke="none" stroke-width="1"/>
<text x="354.30" y="155.80" font-size="8.1" text-anchor="end" fill="#111" stroke="#111" stroke-width="0.1" transform="rotate(-90 354.30 155.80)" >HANK1</text>
<rect x="371.40" y="62.32" width="5.40" height="83.78" fill="#fff" stroke="#505050" stroke-width="1"/>
<rect x="376.75" y="104.78" width="5.70" height="41.32" fill="#000" stroke="none" stroke-width="1"/>
<text x="373.20" y="155.80" font-size="8.1" text-anchor="end" fill="#111" stroke="#111" stroke-width="0.1" transform="rotate(-90 373.20 155.80)" >SNK1</text>
<rect x="389.60" y="67.31" width="5.40" height="78.79" fill="#fff" stroke="#505050" stroke-width="1"/>
<rect x="394.95" y="104.78" width="5.70" height="41.32" fill="#000" stroke="none" stroke-width="1"/>
<text x="392.30" y="155.80" font-size="8.1" text-anchor="end" fill="#111" stroke="#111" stroke-width="0.1" transform="rotate(-90 392.30 155.80)" >KAI3</text>
<rect x="408.20" y="70.19" width="5.40" height="75.91" fill="#fff" stroke="#505050" stroke-width="1"/>
<rect x="413.55" y="95.18" width="5.70" height="50.92" fill="#000" stroke="none" stroke-width="1"/>
<text x="411.10" y="155.80" font-size="8.1" text-anchor="end" fill="#111" stroke="#111" stroke-width="0.1" transform="rotate(-90 411.10 155.80)" >SNK6</text>
<rect x="426.60" y="93.73" width="5.40" height="52.37" fill="#fff" stroke="#505050" stroke-width="1"/>
<rect x="431.95" y="86.53" width="5.70" height="59.57" fill="#000" stroke="none" stroke-width="1"/>
<text x="431.30" y="155.80" font-size="8.1" text-anchor="end" fill="#111" stroke="#111" stroke-width="0.1" transform="rotate(-90 431.30 155.80)" >KHYG1</text>
<rect x="444.90" y="95.18" width="5.40" height="50.92" fill="#fff" stroke="#505050" stroke-width="1"/>
<rect x="450.25" y="98.54" width="5.70" height="47.56" fill="#000" stroke="none" stroke-width="1"/>
<text x="450.40" y="155.80" font-size="8.1" text-anchor="end" fill="#111" stroke="#111" stroke-width="0.1" transform="rotate(-90 450.40 155.80)" >DERL7</text>
<rect x="462.70" y="99.02" width="5.40" height="47.08" fill="#fff" stroke="#505050" stroke-width="1"/>
<rect x="468.05" y="86.53" width="5.70" height="59.57" fill="#000" stroke="none" stroke-width="1"/>
<text x="469.60" y="155.80" font-size="8.1" text-anchor="end" fill="#111" stroke="#111" stroke-width="0.1" transform="rotate(-90 469.60 155.80)" >NK92</text>
<rect x="481.50" y="106.71" width="5.40" height="39.39" fill="#fff" stroke="#505050" stroke-width="1"/>
<rect x="486.85" y="69.23" width="5.70" height="76.87" fill="#000" stroke="none" stroke-width="1"/>
<text x="488.80" y="155.80" font-size="8.1" text-anchor="end" fill="#111" stroke="#111" stroke-width="0.1" transform="rotate(-90 488.80 155.80)" >YT</text>
<rect x="500.60" y="122.56" width="5.40" height="23.54" fill="#fff" stroke="#505050" stroke-width="1"/>
<rect x="505.95" y="83.65" width="5.70" height="62.45" fill="#000" stroke="none" stroke-width="1"/>
<text x="508.00" y="155.80" font-size="8.1" text-anchor="end" fill="#111" stroke="#111" stroke-width="0.1" transform="rotate(-90 508.00 155.80)" >NKL</text>
<rect x="441.60" y="18.60" width="62.20" height="36.00" fill="#fff" stroke="#555" stroke-width="1"/>
<rect x="445.70" y="26.50" width="8.60" height="7.80" fill="#fff" stroke="#444" stroke-width="1"/>
<rect x="445.20" y="39.00" width="9.40" height="8.20" fill="#000" stroke="none" stroke-width="1"/>
<text x="461.20" y="33.80" font-size="9.3" text-anchor="start" fill="#111" stroke="#111" stroke-width="0.15" >miR-155</text>
<text x="461.20" y="46.00" font-size="9.3" text-anchor="start" fill="#111" stroke="#111" stroke-width="0.15" >miR-21</text>
<line x1="329.50" y1="204.70" x2="329.50" y2="329.00" stroke="#000" stroke-width="1.4"/>
<line x1="325.70" y1="329.00" x2="513.80" y2="329.00" stroke="#000" stroke-width="1.4"/>
<line x1="325.70" y1="329.00" x2="329.50" y2="329.00" stroke="#000" stroke-width="1.2"/>
<text x="321.20" y="332.40" font-size="8.6" text-anchor="end" font-weight="bold" font-style="italic" fill="#111" letter-spacing="-0.2">0</text>
<line x1="329.50" y1="329.00" x2="329.50" y2="332.20" stroke="#000" stroke-width="1.2"/>
<text x="329.50" y="345.90" font-size="8.6" text-anchor="middle" font-weight="bold" font-style="italic" fill="#111" letter-spacing="-0.2">0</text>
<line x1="325.70" y1="308.28" x2="329.50" y2="308.28" stroke="#000" stroke-width="1.2"/>
<text x="321.20" y="311.68" font-size="8.6" text-anchor="end" font-weight="bold" font-style="italic" fill="#111" letter-spacing="-0.2">2</text>
<line x1="360.22" y1="329.00" x2="360.22" y2="332.20" stroke="#000" stroke-width="1.2"/>
<text x="360.22" y="345.90" font-size="8.6" text-anchor="middle" font-weight="bold" font-style="italic" fill="#111" letter-spacing="-0.2">2</text>
<line x1="325.70" y1="287.57" x2="329.50" y2="287.57" stroke="#000" stroke-width="1.2"/>
<text x="321.20" y="290.97" font-size="8.6" text-anchor="end" font-weight="bold" font-style="italic" fill="#111" letter-spacing="-0.2">4</text>
<line x1="390.93" y1="329.00" x2="390.93" y2="332.20" stroke="#000" stroke-width="1.2"/>
<text x="390.93" y="345.90" font-size="8.6" text-anchor="middle" font-weight="bold" font-style="italic" fill="#111" letter-spacing="-0.2">4</text>
<line x1="325.70" y1="266.85" x2="329.50" y2="266.85" stroke="#000" stroke-width="1.2"/>
<text x="321.20" y="270.25" font-size="8.6" text-anchor="end" font-weight="bold" font-style="italic" fill="#111" letter-spacing="-0.2">6</text>
<line x1="421.65" y1="329.00" x2="421.65" y2="332.20" stroke="#000" stroke-width="1.2"/>
<text x="421.65" y="345.90" font-size="8.6" text-anchor="middle" font-weight="bold" font-style="italic" fill="#111" letter-spacing="-0.2">6</text>
<line x1="325.70" y1="246.13" x2="329.50" y2="246.13" stroke="#000" stroke-width="1.2"/>
<text x="321.20" y="249.53" font-size="8.6" text-anchor="end" font-weight="bold" font-style="italic" fill="#111" letter-spacing="-0.2">8</text>
<line x1="452.37" y1="329.00" x2="452.37" y2="332.20" stroke="#000" stroke-width="1.2"/>
<text x="452.37" y="345.90" font-size="8.6" text-anchor="middle" font-weight="bold" font-style="italic" fill="#111" letter-spacing="-0.2">8</text>
<line x1="325.70" y1="225.42" x2="329.50" y2="225.42" stroke="#000" stroke-width="1.2"/>
<text x="321.20" y="228.82" font-size="8.6" text-anchor="end" font-weight="bold" font-style="italic" fill="#111" letter-spacing="-0.2">10</text>
<line x1="483.08" y1="329.00" x2="483.08" y2="332.20" stroke="#000" stroke-width="1.2"/>
<text x="483.08" y="345.90" font-size="8.6" text-anchor="middle" font-weight="bold" font-style="italic" fill="#111" letter-spacing="-0.2">10</text>
<line x1="325.70" y1="204.70" x2="329.50" y2="204.70" stroke="#000" stroke-width="1.2"/>
<text x="321.20" y="208.10" font-size="8.6" text-anchor="end" font-weight="bold" font-style="italic" fill="#111" letter-spacing="-0.2">12</text>
<line x1="513.80" y1="329.00" x2="513.80" y2="332.20" stroke="#000" stroke-width="1.2"/>
<text x="513.80" y="345.90" font-size="8.6" text-anchor="middle" font-weight="bold" font-style="italic" fill="#111" letter-spacing="-0.2">12</text>
<circle cx="366.30" cy="261.80" r="1.9" fill="#000"/>
<circle cx="391.80" cy="246.50" r="1.9" fill="#000"/>
<circle cx="404.70" cy="265.30" r="1.9" fill="#000"/>
<circle cx="412.20" cy="264.50" r="1.9" fill="#000"/>
<circle cx="410.20" cy="277.80" r="1.9" fill="#000"/>
<circle cx="449.30" cy="274.10" r="1.9" fill="#000"/>
<circle cx="454.60" cy="284.50" r="1.9" fill="#000"/>
<circle cx="462.10" cy="284.30" r="1.9" fill="#000"/>
<circle cx="484.10" cy="283.40" r="1.9" fill="#000"/>
<circle cx="493.75" cy="310.40" r="1.9" fill="#000"/>
<line x1="366.70" y1="252.20" x2="494.30" y2="296.80" stroke="#000" stroke-width="1.5"/>
<text x="441.80" y="229.40" font-size="9.5" text-anchor="start" fill="#222" stroke="#222" stroke-width="0.15" >R2=0.55</text>
<text x="442.0" y="241.2" font-size="9.5" fill="#222" stroke="#222" stroke-width="0.15"><tspan font-style="italic">P</tspan> = .0001</text>
<text x="308.6" y="293.8" font-size="9.4" font-weight="bold" fill="#111" stroke="#111" stroke-width="0.1" transform="rotate(-90 308.6 293.8)">miR-21</text>
<text x="0" y="0" font-size="10.8" fill="#111" stroke="#111" stroke-width="0.15" transform="translate(309.6 260.1) rotate(-90) scale(0.86 1)">-</text>
<text x="0" y="0" font-size="10.8" fill="#111" stroke="#111" stroke-width="0.15" transform="translate(309.6 254.6) rotate(-90) scale(0.86 1)">Δ</text>
<text x="0" y="0" font-size="10.8" fill="#111" stroke="#111" stroke-width="0.15" transform="translate(309.6 246.2) rotate(-90) scale(0.86 1)">Δ</text>
<text x="0" y="0" font-size="10.8" fill="#111" stroke="#111" stroke-width="0.15" transform="translate(309.6 236.2) rotate(-90) scale(0.86 1)">Ct</text>
<text x="388.0" y="361.0" font-size="9.5" font-weight="bold" fill="#111" stroke="#111" stroke-width="0.1">miR-155</text>
<text x="0" y="0" font-size="10.4" fill="#111" stroke="#111" stroke-width="0.15" transform="translate(430.8 361.3) scale(0.9 1)">-</text>
<text x="0" y="0" font-size="10.4" fill="#111" stroke="#111" stroke-width="0.15" transform="translate(435.5 361.3) scale(0.9 1)">Δ</text>
<text x="0" y="0" font-size="10.4" fill="#111" stroke="#111" stroke-width="0.15" transform="translate(445.0 361.3) scale(0.9 1)">Δ</text>
<text x="0" y="0" font-size="10.4" fill="#111" stroke="#111" stroke-width="0.15" transform="translate(452.6 361.3) scale(0.9 1)">Ct</text>
</svg>
</body></html>
